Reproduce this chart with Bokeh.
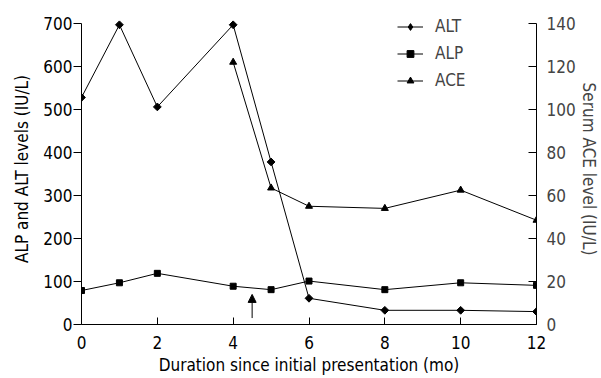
import math
from bokeh.plotting import figure
from bokeh.models import Range1d, LinearAxis, FixedTicker, Arrow, NormalHead, Legend, LegendItem
from bokeh.embed import file_html
from bokeh.resources import INLINE

months = [0, 1, 2, 4, 5, 6, 8, 10, 12]
alt = [528, 697, 506, 697, 378, 61, 33, 33, 30]
alp = [79, 97, 119, 89, 81, 101, 81, 97, 91]
ace_months = [4, 5, 6, 8, 10, 12]
ace = [122, 63.5, 55, 54, 62.5, 48.5]
left_ticks = [0, 100, 200, 300, 400, 500, 600, 700]
right_ticks = [0, 20, 40, 60, 80, 100, 120, 140]
x_ticks = [0, 2, 4, 6, 8, 10, 12]
arrow_x = 4.5
arrow_from = 15
arrow_to = 70

FONT = "DejaVu Sans Condensed"
FS = "17px"

# frame: top at 13px, 700 units at 23px, 0 at 324px
TOP_L = 700 * 311 / 301
TOP_R = 140 * 311 / 301

p = figure(width=601, height=378, output_backend="svg", toolbar_location=None,
           x_range=Range1d(0, 12), y_range=Range1d(0, TOP_L),
           min_border_left=81, min_border_right=65, min_border_top=13, min_border_bottom=54)
p.extra_y_ranges = {"ace": Range1d(0, TOP_R)}
p.outline_line_color = None
p.grid.visible = False
p.background_fill_color = "white"

for ax in [p.xaxis[0], p.yaxis[0]]:
    ax.axis_line_color = "black"
    ax.major_label_text_font = FONT
    ax.major_label_text_font_size = FS
    ax.axis_label_text_font = FONT
    ax.axis_label_text_font_size = FS
    ax.axis_label_text_font_style = "normal"
    ax.minor_tick_line_color = None
    ax.major_label_text_color = "black"
    ax.axis_label_text_color = "black"

p.xaxis.ticker = FixedTicker(ticks=x_ticks)
p.xaxis.axis_label = "Duration since initial presentation (mo)"
p.xaxis.major_tick_in = 7
p.xaxis.major_tick_out = 0
p.xaxis.major_label_standoff = 11
p.xaxis.axis_label_standoff = 3

p.yaxis.ticker = FixedTicker(ticks=left_ticks)
p.yaxis.bounds = (0, 700)
p.yaxis.axis_label = "ALP and ALT levels (IU/L)"
p.yaxis.major_tick_in = 0
p.yaxis.major_tick_out = 8
p.yaxis.major_label_standoff = 1
p.yaxis.axis_label_standoff = 8

r_axis = LinearAxis(y_range_name="ace", axis_label="Serum ACE level (IU/L)",
                    ticker=FixedTicker(ticks=right_ticks), bounds=(0, 140))
r_axis.major_label_text_font = FONT
r_axis.major_label_text_font_size = FS
r_axis.axis_label_text_font = FONT
r_axis.axis_label_text_font_size = FS
r_axis.axis_label_text_font_style = "normal"
r_axis.minor_tick_line_color = None
r_axis.major_tick_in = 8
r_axis.major_tick_out = 0
r_axis.major_label_standoff = 10
r_axis.axis_label_standoff = 0
p.add_layout(r_axis, "right")

l_alt = p.line(months, alt, line_color="black", line_width=1)
m_alt = p.scatter(months, alt, marker="square", angle=math.pi / 4, size=5.5, color="black")
leg_alt = p.scatter(months, alt, marker="diamond", size=8, color="black", visible=False)
l_alp = p.line(months, alp, line_color="black", line_width=1)
m_alp = p.scatter(months, alp, marker="square", size=6, color="black")
l_ace = p.line(ace_months, ace, line_color="black", line_width=1, y_range_name="ace")
m_ace = p.scatter(ace_months, ace, marker="triangle", size=7, color="black", y_range_name="ace")

p.add_layout(Arrow(end=NormalHead(size=8, fill_color="black", line_color="black", line_width=1),
                   x_start=arrow_x, y_start=arrow_from, x_end=arrow_x, y_end=arrow_to,
                   line_color="black", line_width=1))

legend = Legend(items=[LegendItem(label="ALT", renderers=[l_alt, leg_alt]),
                       LegendItem(label="ALP", renderers=[l_alp, m_alp]),
                       LegendItem(label="ACE", renderers=[l_ace, m_ace])],
                location=(316, 234), padding=0, margin=0, spacing=7,
                glyph_width=26, glyph_height=17, label_height=20, label_standoff=12,
                label_text_font=FONT, label_text_font_size=FS,
                background_fill_alpha=0, border_line_color=None)
p.add_layout(legend)

open("out.html", "w").write(file_html(p, INLINE))
